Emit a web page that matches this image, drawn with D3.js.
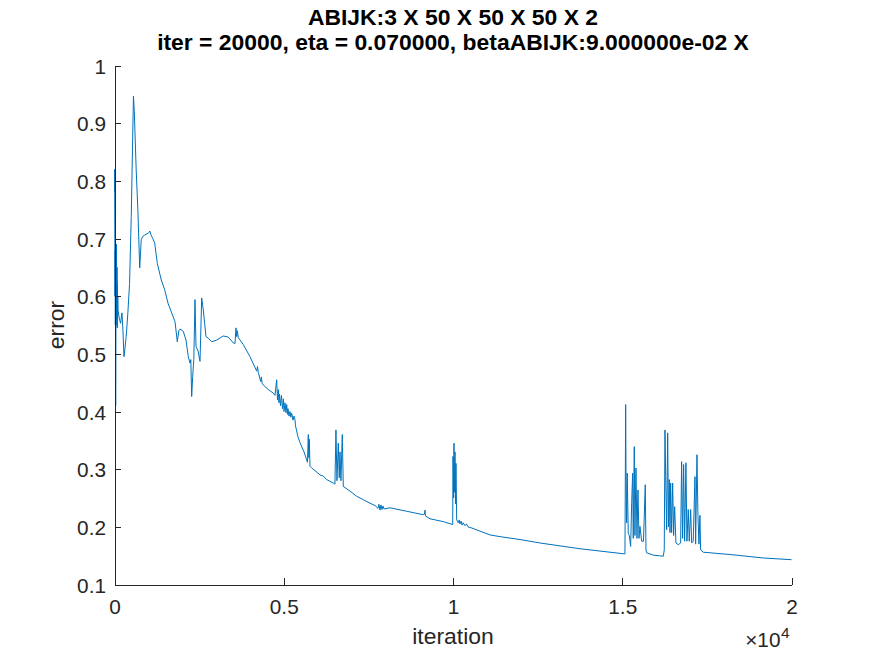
<!DOCTYPE html>
<html>
<head>
<meta charset="utf-8">
<script src="https://cdn.jsdelivr.net/npm/d3@7"></script>
<style>
  html, body { margin: 0; padding: 0; background: #fff; }
  svg { display: block; font-family: 'Liberation Sans', Arial, Helvetica, sans-serif; }
  .axis path, .axis line { stroke: #262626; stroke-width: 1; shape-rendering: crispEdges; }
  .axis text { fill: #262626; font-size: 20.8px; font-family: 'Liberation Sans', Arial, sans-serif; }
</style>
</head>
<body>
<script>
'use strict';

// error curve (iteration -> error)
const iterations = [
  0, 5, 10, 15, 20, 25, 30, 35, 40, 45, 50, 55, 60, 65, 70, 75, 80, 85, 90, 96,
  103, 140, 180, 220, 250, 280, 310, 345, 395, 445, 495, 545, 560, 585, 640, 690, 745, 790, 840, 890,
  960, 1010, 1045, 1080, 1130, 1188, 1264, 1382, 1483, 1580, 1690, 1787, 1855, 1900, 1935, 2032, 2112, 2180, 2230, 2254,
  2280, 2310, 2343, 2378, 2408, 2467, 2526, 2576, 2623, 2703, 2771, 2871, 3019, 3214, 3362, 3509, 3560, 3589, 3610, 3628,
  3657, 3707, 3805, 4003, 4201, 4224, 4248, 4319, 4340, 4360, 4396, 4543, 4691, 4741, 4791, 4815, 4839, 4860, 4874, 4904,
  4933, 4963, 4990, 5007, 5037, 5065, 5087, 5110, 5125, 5155, 5184, 5210, 5234, 5273, 5302, 5332, 5347, 5376, 5415, 5480,
  5598, 5701, 5725, 5740, 5755, 5775, 5825, 5953, 6071, 6168, 6267, 6463, 6512, 6542, 6572, 6611, 6640, 6661, 6690, 6729,
  6759, 6956, 7155, 7350, 7548, 7695, 7784, 7813, 7843, 7873, 7902, 7932, 7961, 8139, 8632, 9122, 9158, 9172, 9187, 9320,
  9713, 9991, 10000, 10018, 10029, 10044, 10059, 10074, 10088, 10109, 10157, 10185, 10206, 10240, 10266, 10300, 10354, 10400, 10443, 10552,
  11093, 11388, 11979, 12570, 13160, 13751, 14342, 15080, 15101, 15110, 15130, 15148, 15177, 15207, 15248, 15278, 15307, 15325, 15355, 15375,
  15405, 15435, 15464, 15494, 15523, 15573, 15627, 15680, 15701, 15721, 15916, 16212, 16241, 16262, 16283, 16312, 16342, 16365, 16389, 16410,
  16430, 16459, 16489, 16518, 16548, 16586, 16654, 16725, 16754, 16784, 16813, 16843, 16881, 16911, 16950, 16979, 17021, 17050, 17097, 17148,
  17168, 17207, 17236, 17266, 17295, 17315, 17393, 18181, 19166, 20000
];
const errors = [
  0.78, 0.82, 0.70, 0.60, 0.68, 0.55, 0.64, 0.41, 0.54, 0.66, 0.56, 0.69, 0.58, 0.63, 0.55, 0.65, 0.545, 0.62, 0.56, 0.60,
  0.576, 0.562, 0.553, 0.571, 0.54, 0.495, 0.51, 0.530, 0.571, 0.622, 0.738, 0.90, 0.947, 0.92, 0.82, 0.75, 0.649, 0.698, 0.704, 0.706,
  0.708, 0.71, 0.713, 0.706, 0.70, 0.692, 0.657, 0.628, 0.611, 0.588, 0.571, 0.556, 0.521, 0.54, 0.543, 0.539, 0.524, 0.495, 0.484, 0.49,
  0.426, 0.461, 0.49, 0.594, 0.513, 0.505, 0.487, 0.597, 0.576, 0.530, 0.527, 0.521, 0.524, 0.531, 0.529, 0.519, 0.518, 0.545, 0.53, 0.54,
  0.528, 0.524, 0.516, 0.495, 0.470, 0.478, 0.468, 0.452, 0.46, 0.449, 0.446, 0.438, 0.432, 0.428, 0.455, 0.42, 0.438, 0.415, 0.43, 0.41,
  0.428, 0.405, 0.422, 0.40, 0.415, 0.398, 0.412, 0.395, 0.405, 0.392, 0.40, 0.39, 0.397, 0.385, 0.392, 0.386, 0.375, 0.368, 0.357, 0.346,
  0.330, 0.312, 0.360, 0.32, 0.352, 0.305, 0.302, 0.296, 0.290, 0.288, 0.282, 0.276, 0.274, 0.368, 0.28, 0.345, 0.285, 0.33, 0.28, 0.360,
  0.270, 0.262, 0.253, 0.247, 0.241, 0.237, 0.232, 0.239, 0.229, 0.238, 0.230, 0.236, 0.231, 0.233, 0.227, 0.221, 0.222, 0.229, 0.219, 0.214,
  0.209, 0.204, 0.322, 0.25, 0.345, 0.26, 0.33, 0.24, 0.31, 0.212, 0.207, 0.212, 0.205, 0.210, 0.203, 0.207, 0.202, 0.205, 0.200, 0.198,
  0.186, 0.183, 0.178, 0.172, 0.167, 0.162, 0.158, 0.153, 0.412, 0.299, 0.207, 0.293, 0.189, 0.185, 0.166, 0.241, 0.293, 0.18, 0.339, 0.185,
  0.302, 0.18, 0.264, 0.18, 0.201, 0.175, 0.175, 0.273, 0.160, 0.155, 0.151, 0.149, 0.16, 0.368, 0.287, 0.195, 0.363, 0.2, 0.282, 0.19,
  0.276, 0.19, 0.276, 0.185, 0.235, 0.172, 0.169, 0.172, 0.313, 0.18, 0.308, 0.175, 0.311, 0.175, 0.230, 0.175, 0.23, 0.172, 0.175, 0.287,
  0.17, 0.325, 0.22, 0.17, 0.22, 0.160, 0.156, 0.152, 0.146, 0.143
];

const xTicks = [0, 5000, 10000, 15000, 20000];
const xTickLabels = ['0', '0.5', '1', '1.5', '2'];
const yTicks = [0.1, 0.2, 0.3, 0.4, 0.5, 0.6, 0.7, 0.8, 0.9, 1];
const yTickLabels = ['0.1', '0.2', '0.3', '0.4', '0.5', '0.6', '0.7', '0.8', '0.9', '1'];

const titleLines = [
  'ABIJK:3 X 50 X 50 X 50 X 2',
  'iter = 20000, eta = 0.070000, betaABIJK:9.000000e-02 X'
];

const W = 875, H = 656;
const plot = { left: 114.5, right: 791.5, top: 65.5, bottom: 584.5 };

const x = d3.scaleLinear().domain([0, 20000]).range([plot.left, plot.right]);
const y = d3.scaleLinear().domain([0.1, 1]).range([plot.bottom, plot.top]);

const svg = d3.select('body').append('svg')
  .attr('width', W).attr('height', H)
  .attr('viewBox', `0 0 ${W} ${H}`);

svg.append('rect')
  .attr('width', W).attr('height', H)
  .attr('fill', '#fff');

const appendTitle = node => {
  const t = node.append('text')
    .attr('text-anchor', 'middle')
    .attr('font-weight', 'bold')
    .attr('font-size', '22.9px')
    .attr('fill', '#000');
  titleLines.forEach((line, i) => {
    t.append('tspan')
      .attr('x', (plot.left + plot.right) / 2)
      .attr('y', 24.5 + i * 25.5)
      .text(line);
  });
};

const appendAxes = node => {
  // bottom axis, ticks pointing inward
  const xAxis = d3.axisBottom(x)
    .tickValues(xTicks)
    .tickFormat((d, i) => xTickLabels[i])
    .tickSizeInner(-6.8)
    .tickSizeOuter(0)
    .tickPadding(14.7);
  node.append('g')
    .attr('class', 'axis')
    .attr('transform', `translate(0, ${plot.bottom})`)
    .call(xAxis);

  // left axis
  const yAxis = d3.axisLeft(y)
    .tickValues(yTicks)
    .tickFormat((d, i) => yTickLabels[i])
    .tickSizeInner(-6.8)
    .tickSizeOuter(0)
    .tickPadding(8.5);
  node.append('g')
    .attr('class', 'axis')
    .attr('transform', `translate(${plot.left}, 0)`)
    .call(yAxis)
    .selectAll('text')
      .attr('dy', '0.36em');

  // axis labels
  node.append('text')
    .attr('x', (plot.left + plot.right) / 2)
    .attr('y', 644.3)
    .attr('text-anchor', 'middle')
    .attr('font-size', '22.9px')
    .attr('fill', '#262626')
    .text('iteration');

  node.append('text')
    .attr('transform', `translate(63.5, ${(plot.top + plot.bottom) / 2}) rotate(-90)`)
    .attr('text-anchor', 'middle')
    .attr('font-size', '22.9px')
    .attr('fill', '#262626')
    .text('error');

  // x10^4 exponent
  node.append('text')
    .attr('x', 780.5).attr('y', 647.3)
    .attr('text-anchor', 'end')
    .attr('font-size', '20.8px')
    .attr('fill', '#262626')
    .text('\u00d710');
  node.append('text')
    .attr('x', 781).attr('y', 638)
    .attr('font-size', '15.5px')
    .attr('fill', '#262626')
    .text('4');
};

const appendLine = node => {
  const pts = iterations.map((it, i) => [it, errors[i]]);
  node.append('path')
    .datum(pts)
    .attr('fill', 'none')
    .attr('stroke', '#0072BD')
    .attr('stroke-width', 1)
    .attr('stroke-linejoin', 'round')
    .attr('d', d3.line().x(d => x(d[0])).y(d => y(d[1])));
};

appendLine(svg);
appendAxes(svg);
appendTitle(svg);
</script>
</body>
</html>
